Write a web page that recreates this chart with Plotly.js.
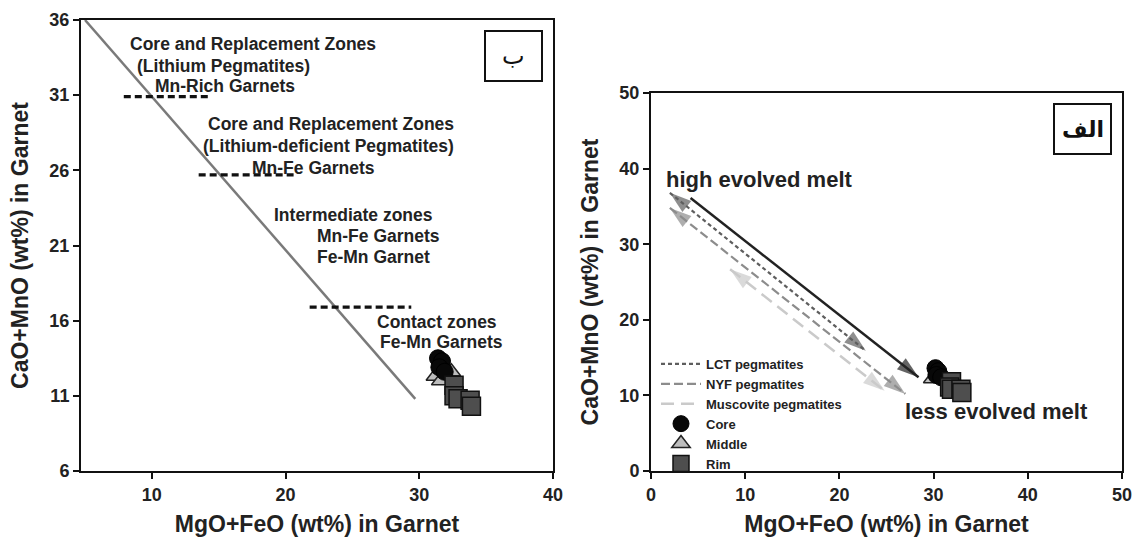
<!DOCTYPE html>
<html><head><meta charset="utf-8">
<script src="https://cdn.plot.ly/plotly-3.0.1.min.js"></script>
<style>html,body{margin:0;padding:0;background:#fff}#chart{width:1139px;height:541px}</style>
</head><body><div id="chart"></div>
<script>
// ---------- Panel ب (left) ----------
const bDiagX = [5.0, 29.7];
const bDiagY = [36.0, 10.8];
const bZone1X = [7.9, 14.3];  const bZone1Y = [30.9, 30.9];
const bZone2X = [13.5, 20.6]; const bZone2Y = [25.7, 25.7];
const bZone3X = [21.8, 29.4]; const bZone3Y = [16.9, 16.9];
const bCoreX = [31.4, 31.7, 31.5, 31.9];
const bCoreY = [13.5, 13.3, 12.9, 12.6];
const bMiddleX = [31.2, 32.4, 31.6];
const bMiddleY = [12.3, 12.6, 12.0];
const bRimX = [32.6, 32.6, 32.9, 33.8, 33.9];
const bRimY = [11.7, 11.0, 10.8, 10.7, 10.3];
const bXTicks = [10, 20, 30, 40];
const bYTicks = [6, 11, 16, 21, 26, 31, 36];
const bLabels = [
  "Core and Replacement Zones", "(Lithium Pegmatites)", "Mn-Rich Garnets",
  "Core and Replacement Zones", "(Lithium-deficient Pegmatites)", "Mn-Fe Garnets",
  "Intermediate zones", "Mn-Fe Garnets", "Fe-Mn Garnet",
  "Contact zones", "Fe-Mn Garnets"
];

// ---------- Panel الف (right) ----------
const aSolidX = [4.2, 28.4];  const aSolidY = [36.1, 12.4];
const aLctX = [2.0, 22.8];    const aLctY = [36.8, 15.9];
const aNyfX = [2.0, 27.0];    const aNyfY = [34.8, 10.2];
const aMusX = [8.4, 24.8];    const aMusY = [26.7, 10.6];
const aCoreX = [30.2, 30.5, 30.3, 30.8];
const aCoreY = [13.6, 13.2, 12.7, 12.4];
const aMiddleX = [29.9, 31.0];
const aMiddleY = [12.2, 12.6];
const aRimX = [31.9, 31.7, 31.9, 32.9, 33.0];
const aRimY = [11.8, 11.1, 10.8, 10.8, 10.4];
const aTicks = [0, 10, 20, 30, 40, 50];
const seriesNames = ["LCT pegmatites", "NYF pegmatites", "Muscovite pegmatites", "Core", "Middle", "Rim"];

const FONT = "Liberation Sans, Arial, Helvetica, sans-serif";
const TXT = "#222";
const W = 1139, H = 541;
const px = v => v / W, py = v => 1 - v / H;

const traces = [];
// left panel
traces.push({x: bDiagX, y: bDiagY, xaxis: 'x', yaxis: 'y', mode: 'lines',
  line: {color: '#7a7a7a', width: 2.5}, showlegend: false, hoverinfo: 'skip'});
[[bZone1X, bZone1Y], [bZone2X, bZone2Y], [bZone3X, bZone3Y]].forEach(([zx, zy]) => {
  traces.push({x: zx, y: zy, xaxis: 'x', yaxis: 'y', mode: 'lines',
    line: {color: '#111', width: 3.2, dash: '7px,4px'}, showlegend: false});
});
const mkMiddle = {symbol: 'triangle-up', size: 16, color: '#bdbdbd', line: {color: '#222', width: 1.5}};
const mkCore = {symbol: 'circle', size: 17, color: '#080808', line: {color: '#000', width: 1}};
const mkRim = {symbol: 'square', size: 18, color: '#4e4e4e', line: {color: '#111', width: 1.5}};
traces.push({x: bMiddleX, y: bMiddleY, xaxis: 'x', yaxis: 'y', mode: 'markers', marker: mkMiddle, showlegend: false});
traces.push({x: bCoreX, y: bCoreY, xaxis: 'x', yaxis: 'y', mode: 'markers', marker: mkCore, showlegend: false});
traces.push({x: bRimX, y: bRimY, xaxis: 'x', yaxis: 'y', mode: 'markers', marker: mkRim, showlegend: false});

// right panel arrows: shaft + heads
function arrow(xs, ys, color, width, dash, name, rank, both) {
  traces.push({x: xs, y: ys, xaxis: 'x2', yaxis: 'y2', mode: 'lines', name: name || '',
    showlegend: !!name, legendrank: rank, line: {color: color, width: width, dash: dash}});
  const hx = both ? [xs[0], xs[1], xs[0]] : [xs[0], xs[1]];
  const hy = both ? [ys[0], ys[1], ys[0]] : [ys[0], ys[1]];
  traces.push({x: hx, y: hy, xaxis: 'x2', yaxis: 'y2', mode: 'markers', showlegend: false,
    marker: {symbol: 'arrow', angleref: 'previous', size: both ? [0, 23, 23] : [0, 23], color: color,
      line: {width: 0}}});
}
arrow(aSolidX, aSolidY, '#222', 2.5, 'solid', null, 0, false);
arrow(aMusX, aMusY, '#cacaca', 2.5, '13px,7px', seriesNames[2], 3, true);
arrow(aNyfX, aNyfY, '#8c8c8c', 2.2, '9px,4px', seriesNames[1], 2, true);
arrow(aLctX, aLctY, '#5e5e5e', 2.2, '4px,3px', seriesNames[0], 1, true);

traces.push({x: aMiddleX, y: aMiddleY, xaxis: 'x2', yaxis: 'y2', mode: 'markers', name: seriesNames[4], legendrank: 5, marker: mkMiddle});
traces.push({x: aCoreX, y: aCoreY, xaxis: 'x2', yaxis: 'y2', mode: 'markers', name: seriesNames[3], legendrank: 4, marker: mkCore});
traces.push({x: aRimX, y: aRimY, xaxis: 'x2', yaxis: 'y2', mode: 'markers', name: seriesNames[5], legendrank: 6, marker: mkRim});

const axCommon = {
  showline: true, linecolor: '#111', linewidth: 2, mirror: true, showgrid: false, zeroline: false,
  ticks: 'outside', ticklen: 6, tickwidth: 2, tickcolor: '#111',
  tickfont: {family: FONT, size: 18, color: TXT, weight: 'bold'}
};
const titleFont = {family: FONT, size: 23, color: TXT, weight: 'bold'};

const annotations = [];
const bPos = [
  [8.23, 34.38], [8.75, 32.91], [10.1, 31.58],
  [14.05, 29.11], [13.68, 27.65], [17.34, 26.18],
  [18.98, 23.05], [22.19, 21.65], [22.19, 20.25],
  [26.66, 15.91], [26.88, 14.58]
];
bLabels.forEach((t, i) => annotations.push({text: t, x: bPos[i][0], y: bPos[i][1], xref: 'x', yref: 'y',
  xanchor: 'left', yanchor: 'middle', showarrow: false,
  font: {family: FONT, size: 17.5, color: TXT, weight: 'bold'}}));
annotations.push({text: 'high evolved melt', x: 1.38, y: 38.5, xref: 'x2', yref: 'y2', xanchor: 'left', yanchor: 'middle',
  showarrow: false, font: {family: FONT, size: 22, color: TXT, weight: 'bold'}});
annotations.push({text: 'less evolved melt', x: 26.75, y: 7.9, xref: 'x2', yref: 'y2', xanchor: 'left', yanchor: 'middle',
  showarrow: false, font: {family: FONT, size: 22, color: TXT, weight: 'bold'}});
annotations.push({text: 'ب', x: px(513.5), y: py(56), xref: 'paper', yref: 'paper', xanchor: 'center', yanchor: 'middle',
  showarrow: false, font: {family: 'DejaVu Sans, Noto Sans, sans-serif', size: 24, color: '#111'}});
annotations.push({text: 'الف', x: px(1082.5), y: py(129), xref: 'paper', yref: 'paper', xanchor: 'center', yanchor: 'middle',
  showarrow: false, font: {family: 'DejaVu Sans, Noto Sans, sans-serif', size: 22, color: '#111', weight: 'bold'}});

const shapes = [
  {type: 'rect', xref: 'paper', yref: 'paper', x0: px(485), x1: px(542), y0: py(81), y1: py(31), line: {color: '#111', width: 2}},
  {type: 'rect', xref: 'paper', yref: 'paper', x0: px(1054), x1: px(1111), y0: py(154), y1: py(104), line: {color: '#111', width: 2}}
];

const layout = {
  width: W, height: H, margin: {l: 0, r: 0, t: 0, b: 0},
  paper_bgcolor: '#fff', plot_bgcolor: '#fff',
  font: {family: FONT, color: TXT},
  xaxis: Object.assign({}, axCommon, {domain: [px(81), px(553)], range: [4.7, 40], tickvals: bXTicks,
    anchor: 'y', title: {text: 'MgO+FeO (wt%) in Garnet', font: titleFont, standoff: 12}}),
  yaxis: Object.assign({}, axCommon, {domain: [py(471), py(20)], range: [6, 36], tickvals: bYTicks,
    anchor: 'x', title: {text: 'CaO+MnO (wt%) in Garnet', font: titleFont, standoff: 14}}),
  xaxis2: Object.assign({}, axCommon, {domain: [px(651), px(1122)], range: [0, 50], tickvals: aTicks,
    anchor: 'y2', title: {text: 'MgO+FeO (wt%) in Garnet', font: titleFont, standoff: 12}}),
  yaxis2: Object.assign({}, axCommon, {domain: [py(471), py(93)], range: [0, 50], tickvals: aTicks,
    anchor: 'x2', title: {text: 'CaO+MnO (wt%) in Garnet', font: titleFont, standoff: 14}}),
  showlegend: true,
  legend: {x: px(656), y: py(349), xanchor: 'left', yanchor: 'top', bgcolor: 'rgba(0,0,0,0)',
    traceorder: 'normal', itemwidth: 40, tracegroupgap: 0,
    font: {family: FONT, size: 13, color: TXT, weight: 'bold'}},
  annotations: annotations, shapes: shapes
};

Plotly.newPlot('chart', traces, layout, {displayModeBar: false, staticPlot: true});
</script></body></html>
